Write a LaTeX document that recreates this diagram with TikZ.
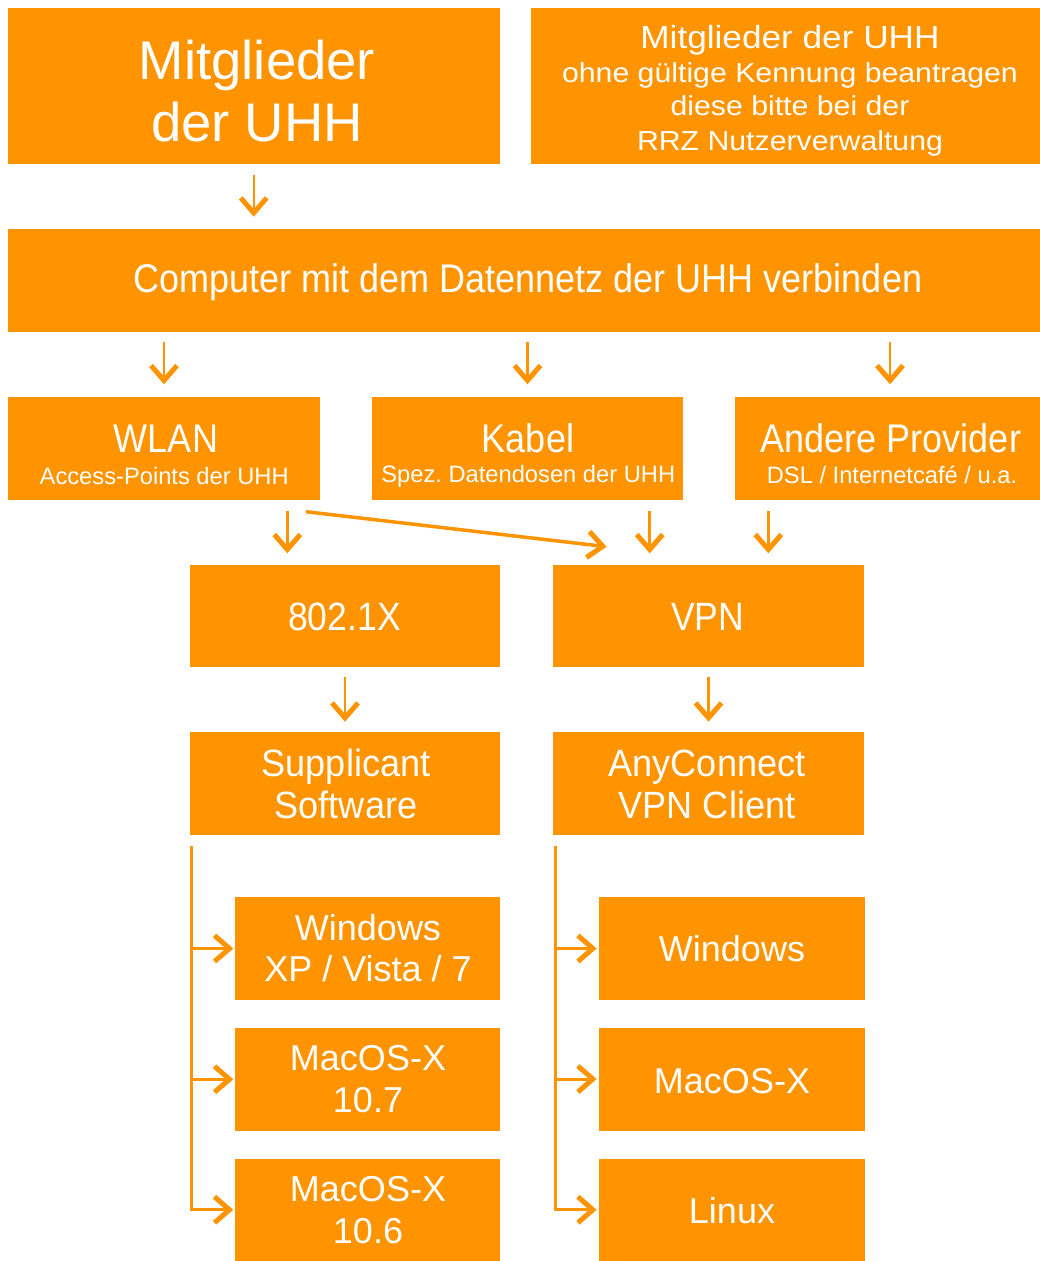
\documentclass[tikz,border=0pt]{standalone}
\usepackage{fontspec}
\setmainfont{Liberation Sans}
\newfontfamily\fN{Liberation Sans}
\newfontfamily\fW[FakeStretch=1.1]{Liberation Sans}
\newfontfamily\fC[FakeStretch=0.9]{Liberation Sans}
\newfontfamily\fM[FakeStretch=0.95]{Liberation Sans}
\usetikzlibrary{arrows.meta,calc}
\definecolor{orng}{RGB}{255,148,0}
\newcommand\myfs[1]{\fontsize{#1}{#1}\selectfont}
\newcommand\mkbox[5]{\node[box, minimum width=#4pt-#2pt, minimum height=#5pt-#3pt] (#1) at (#2,-#3) {};}
\newcommand\tx[5]{\node[txt, font=#4] (#1) at (#2,-#3) {#5};}
\frenchspacing
\begin{document}
\begin{tikzpicture}[x=1pt,y=1pt,
  box/.style={fill=orng,draw=none,inner sep=0pt,outer sep=0pt,anchor=north west},
  txt/.style={text=white,inner sep=0pt,outer sep=0pt,anchor=base,execute at begin node=\frenchspacing},
  arr/.style={draw=orng,line width=2.5pt,-{Straight Barb[length=15pt,width=26pt,line width=5pt]}},
  ln/.style={draw=orng,line width=3pt}]
\useasboundingbox (0,0) rectangle (1040,-1261);
% boxes
\mkbox{A}{7.5}{7.5}{500}{163.5}
\mkbox{B}{531}{7.5}{1040}{163.5}
\mkbox{C}{8}{228.5}{1040}{332}
\mkbox{wlan}{8}{397}{320}{500}
\mkbox{kabel}{372}{397}{683}{500}
\mkbox{andere}{735}{397}{1040}{500}
\mkbox{dotx}{190}{565}{500}{667}
\mkbox{vpn}{553}{565}{864}{667}
\mkbox{supp}{190}{732}{500}{835}
\mkbox{any}{553}{732}{864}{835}
\mkbox{lA}{235}{897}{500}{1000}
\mkbox{lB}{235}{1028}{500}{1130.5}
\mkbox{lC}{235}{1158.5}{500}{1261}
\mkbox{rA}{598.5}{897}{865}{1000}
\mkbox{rB}{598.5}{1027.5}{865}{1130.5}
\mkbox{rC}{598.5}{1158.5}{865}{1261}
% texts
\tx{tA1}{257}{79.5}{\fN\myfs{54.5}}{Mitglieder}
\tx{tA2}{257}{141.7}{\fN\myfs{54.5}}{der UHH}
\tx{tB1}{790}{48.3}{\fW\myfs{32}}{Mitglieder der UHH}
\tx{tB2}{790}{82}{\fW\myfs{27.5}}{ohne gültige Kennung beantragen}
\tx{tB3}{790}{115.5}{\fW\myfs{27.5}}{diese bitte bei der}
\tx{tB4}{790}{150}{\fW\myfs{27.5}}{RRZ Nutzerverwaltung}
\tx{tC}{528}{292}{\fC\myfs{40}}{Computer mit dem Datennetz der UHH verbinden}
\tx{tW1}{166}{452.7}{\fC\myfs{40}}{WLAN}
\tx{tW2}{164.2}{484.3}{\fN\myfs{23.7}}{Access-Points der UHH}
\tx{tK1}{528}{452.7}{\fC\myfs{40}}{Kabel}
\tx{tK2}{528.3}{482.5}{\fN\myfs{23.7}}{Spez. Datendosen der UHH}
\tx{tP1}{891}{452.3}{\fC\myfs{40}}{Andere Provider}
\tx{tP2}{892}{483.3}{\fN\myfs{23.7}}{DSL / Internetcafé / u.a.}
\tx{tD}{344.5}{630}{\fC\myfs{39.5}}{802.1X}
\tx{tV}{707.7}{630}{\fC\myfs{39.5}}{VPN}
\tx{tS1}{346}{776}{\fM\myfs{38}}{Supplicant}
\tx{tS2}{346}{818}{\fM\myfs{38}}{Software}
\tx{tY1}{707}{776}{\fM\myfs{38}}{AnyConnect}
\tx{tY2}{707}{818}{\fM\myfs{38}}{VPN Client}
\tx{tL1}{368}{940}{\fN\myfs{36}}{Windows}
\tx{tL2}{368}{981.7}{\fN\myfs{36}}{XP / Vista / 7}
\tx{tL3}{368}{1070.7}{\fN\myfs{36}}{MacOS-X}
\tx{tL4}{368}{1112.3}{\fN\myfs{36}}{10.7}
\tx{tL5}{368}{1201.7}{\fN\myfs{36}}{MacOS-X}
\tx{tL6}{368}{1243.3}{\fN\myfs{36}}{10.6}
\tx{tR1}{732}{961.7}{\fN\myfs{36}}{Windows}
\tx{tR2}{732}{1093.3}{\fN\myfs{36}}{MacOS-X}
\tx{tR3}{732}{1223.3}{\fN\myfs{36}}{Linux}
% connectors
\draw[arr, shorten <=11.5pt, shorten >=11.8pt] (A.south) -- (A.south |- C.north);
\draw[arr, shorten <=10.3pt, shorten >=12.7pt] (wlan.north |- C.south) -- (wlan.north);
\draw[arr, shorten <=10.3pt, shorten >=12.7pt] (kabel.north |- C.south) -- (kabel.north);
\coordinate (p0) at ([xshift=2.5pt]andere.north);
\draw[arr, shorten <=10.3pt, shorten >=12.7pt] (p0 |- C.south) -- (p0);
\coordinate (w1) at ([xshift=-32.7pt]wlan.south east);
\draw[arr, shorten <=10.7pt, shorten >=11.7pt] (w1) -- (w1 |- dotx.north);
\coordinate (k1) at ([xshift=-33.3pt]kabel.south east);
\draw[arr, shorten <=10.7pt, shorten >=11.7pt] (k1) -- (k1 |- vpn.north);
\coordinate (a1) at ([xshift=33.3pt]andere.south west);
\draw[arr, shorten <=10.7pt, shorten >=11.7pt] (a1) -- (a1 |- vpn.north);
\coordinate (d1) at ([shift={(-14pt,-11.7pt)}]wlan.south east);
\coordinate (d2) at ([shift={(53.7pt,18.3pt)}]vpn.north west);
\draw[arr, line width=3.5pt] (d1) -- (d2);
\draw[arr, shorten <=10.3pt, shorten >=10.3pt] (dotx.south) -- (supp.north);
\draw[arr, shorten <=10.3pt, shorten >=10.3pt] (vpn.south) -- (any.north);
% branches
\coordinate (s0) at ([shift={(1.7pt,-11pt)}]supp.south west);
\draw[arr, line width=3pt, shorten >=1.7pt] (s0) |- (lC.west);
\draw[arr, line width=3pt, shorten >=1.7pt] (s0 |- lA.west) -- (lA.west);
\draw[arr, line width=3pt, shorten >=1.7pt] (s0 |- lB.west) -- (lB.west);
\coordinate (t0) at ([shift={(2pt,-11pt)}]any.south west);
\draw[arr, line width=3pt, shorten >=1.8pt] (t0) |- (rC.west);
\draw[arr, line width=3pt, shorten >=1.8pt] (t0 |- rA.west) -- (rA.west);
\draw[arr, line width=3pt, shorten >=1.8pt] (t0 |- rB.west) -- (rB.west);
\end{tikzpicture}
\end{document}
